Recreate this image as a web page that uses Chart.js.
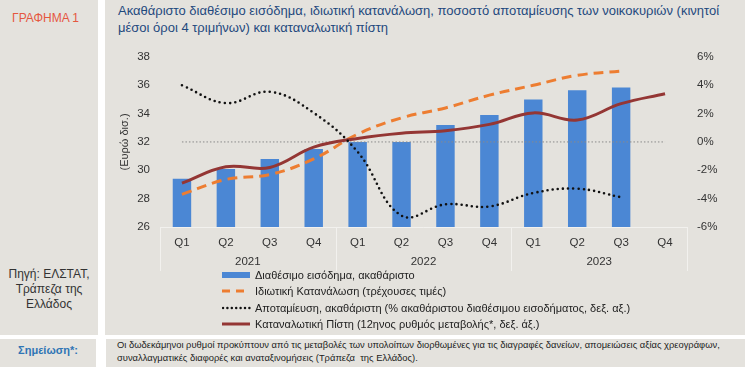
<!DOCTYPE html>
<html lang="el">
<head>
<meta charset="UTF-8">
<title>Γράφημα 1</title>
<script src="https://cdn.jsdelivr.net/npm/chart.js"></script>
<style>
body {
    margin: 0;
    width: 749px;
    height: 367px;
    background: #fff;
    font-family: "Liberation Sans", Arial, sans-serif;
    position: relative;
    overflow: hidden;
}
.panel { position: absolute; background: #e4e2dd; }
#label {
    position: absolute; left: 0; top: 11px; width: 91px; text-align: center;
    color: #e5573f; font-size: 12px;
}
#source {
    position: absolute; left: 0; top: 267px; width: 98px; text-align: center;
    color: #333; font-size: 12px; line-height: 15px;
}
#title {
    position: absolute; left: 118px; top: 2px; width: 630px;
    color: #1f497d; font-size: 13px; line-height: 17px;
}
#chartBox { position: absolute; left: 108px; top: 40px; }
#legend { position: absolute; left: 222px; top: 267px; font-size: 11px; color: #222; }
#legend div { height: 16.3px; display: flex; align-items: center; white-space: nowrap; }
#legend svg { margin-right: 3px; }
#noteLabel {
    position: absolute; left: 0; top: 344px; width: 96px; text-align: center;
    color: #2f75b5; font-weight: bold; font-size: 11px;
}
#note {
    position: absolute; left: 117px; top: 339px; width: 628px;
    color: #222; font-size: 9.4px; line-height: 12.5px;
}
</style>
</head>
<body>
<div class="panel" style="left:0;top:0;width:98px;height:335px"></div>
<div class="panel" style="left:105px;top:0;width:640px;height:335px"></div>
<div class="panel" style="left:0;top:339px;width:96px;height:28px"></div>
<div class="panel" style="left:106px;top:339px;width:639px;height:28px"></div>

<div id="label">ΓΡΑΦΗΜΑ 1</div>
<div id="source">Πηγή: ΕΛΣΤΑΤ,<br>Τράπεζα της<br>Ελλάδος</div>
<div id="title">Ακαθάριστο διαθέσιμο εισόδημα, ιδιωτική κατανάλωση, ποσοστό αποταμίευσης των νοικοκυριών (κινητοί μέσοι όροι 4 τριμήνων) και καταναλωτική πίστη</div>

<div id="chartBox"><canvas id="chart" width="635" height="232"></canvas></div>

<div id="legend">
    <div><svg width="30" height="8"><rect x="0" y="1" width="28" height="6" fill="#4b87d4"/></svg>Διαθέσιμο εισόδημα, ακαθάριστο</div>
    <div><svg width="30" height="8"><line x1="0" y1="4" x2="28" y2="4" stroke="#ed7d31" stroke-width="3" stroke-dasharray="8 6"/></svg>Ιδιωτική Κατανάλωση (τρέχουσες τιμές)</div>
    <div><svg width="30" height="8"><line x1="1" y1="4" x2="28" y2="4" stroke="#111" stroke-width="2.5" stroke-linecap="round" stroke-dasharray="0 4.4"/></svg>Αποταμίευση, ακαθάριστη (% ακαθάριστου διαθέσιμου εισοδήματος, δεξ. αξ.)</div>
    <div><svg width="30" height="8"><line x1="0" y1="4" x2="28" y2="4" stroke="#943634" stroke-width="3"/></svg>Καταναλωτική Πίστη (12ηνος ρυθμός μεταβολής*, δεξ. άξ.)</div>
</div>

<div id="noteLabel">Σημείωση*:</div>
<div id="note">Οι δωδεκάμηνοι ρυθμοί προκύπτουν από τις μεταβολές των υπολοίπων διορθωμένες για τις διαγραφές δανείων, απομειώσεις αξίας χρεογράφων,<br>συναλλαγματικές διαφορές και αναταξινομήσεις (Τράπεζα &nbsp;της Ελλάδος).</div>

<script>
// data
const quarters = ["Q1", "Q2", "Q3", "Q4", "Q1", "Q2", "Q3", "Q4", "Q1", "Q2", "Q3", "Q4"];
const years = ["2021", "2022", "2023"];
const income = [29.4, 30.1, 30.8, 31.5, 32.0, 32.0, 33.2, 33.9, 35.0, 35.65, 35.85, null];
const consumption = [28.3, 29.35, 29.7, 30.8, 32.55, 33.7, 34.4, 35.3, 36.0, 36.7, 37.0, null];
const saving = [4.0, 2.74, 3.54, 2.05, -0.7, -5.2, -4.4, -4.55, -3.6, -3.3, -3.9, null];
const credit = [-2.9, -1.75, -1.8, -0.37, 0.25, 0.62, 0.79, 1.24, 2.05, 1.55, 2.7, 3.4];
const zeroLine = [0, 0, 0, 0, 0, 0, 0, 0, 0, 0, 0, 0];
const leftRange = [26, 38];
const rightRange = [-6, 6];

const tickFont = { family: "Liberation Sans", size: 11.5 };

// year labels and group separators under the category axis
const yearGroups = {
    id: "yearGroups",
    afterDraw(chart) {
        const { ctx, chartArea, scales: { x } } = chart;
        const step = x.getPixelForValue(1) - x.getPixelForValue(0);
        const bottom = chartArea.bottom;
        ctx.save();
        ctx.strokeStyle = "#f2f1ee";
        ctx.lineWidth = 1;
        ctx.beginPath();
        ctx.moveTo(chartArea.left, bottom + 0.5);
        ctx.lineTo(chartArea.right, bottom + 0.5);
        for (let g = 0; g <= years.length; g++) {
            const px = Math.round(x.getPixelForValue(g * 4) - step / 2) + 0.5;
            ctx.moveTo(px, bottom);
            ctx.lineTo(px, bottom + 44);
        }
        ctx.stroke();
        ctx.fillStyle = "#333";
        ctx.font = "11.5px 'Liberation Sans'";
        ctx.textAlign = "center";
        ctx.textBaseline = "middle";
        years.forEach((yr, g) => {
            const cx = (x.getPixelForValue(g * 4) + x.getPixelForValue(g * 4 + 3)) / 2;
            ctx.fillText(yr, cx, bottom + 35);
        });
        ctx.restore();
    }
};

new Chart(document.getElementById("chart"), {
    type: "bar",
    data: {
        labels: quarters,
        datasets: [
            {
                type: "line", data: saving, yAxisID: "y1", order: 1,
                borderColor: "#111", borderWidth: 2.6, borderDash: [0, 5.2], borderCapStyle: "round",
                pointRadius: 0, tension: 0.4, fill: false
            },
            {
                type: "line", data: credit, yAxisID: "y1", order: 2,
                borderColor: "#943634", borderWidth: 3, pointRadius: 0, tension: 0.4, fill: false
            },
            {
                type: "line", data: consumption, yAxisID: "y", order: 3,
                borderColor: "#ed7d31", borderWidth: 3, borderDash: [10, 6],
                pointRadius: 0, tension: 0.4, fill: false
            },
            {
                type: "line", data: zeroLine, yAxisID: "y1", order: 4,
                borderColor: "#8a8a8a", borderWidth: 1, borderDash: [1.5, 2],
                pointRadius: 0, fill: false
            },
            {
                type: "bar", data: income, yAxisID: "y", order: 5,
                backgroundColor: "#4b87d4", categoryPercentage: 1, barPercentage: 0.42
            }
        ]
    },
    options: {
        responsive: false,
        animation: false,
        layout: { padding: { top: 13, left: 0, right: 0, bottom: 0 } },
        plugins: { legend: { display: false }, tooltip: { enabled: false } },
        scales: {
            x: {
                grid: { display: false, drawTicks: false },
                border: { display: false },
                ticks: { color: "#333", font: tickFont, padding: 9, maxRotation: 0, autoSkip: false },
                afterFit(s) { s.height = 45; }
            },
            y: {
                position: "left",
                min: leftRange[0], max: leftRange[1],
                grid: { display: false, drawTicks: false },
                border: { display: false },
                ticks: { stepSize: 2, color: "#333", font: tickFont, padding: 10 },
                title: {
                    display: true, text: "(Ευρώ δισ.)", color: "#333",
                    font: { family: "Liberation Sans", size: 11 }, padding: { top: 10, bottom: 0 }
                },
                afterFit(s) { s.width = 52; }
            },
            y1: {
                position: "right",
                min: rightRange[0], max: rightRange[1],
                grid: { display: false, drawTicks: false },
                border: { display: false },
                ticks: { stepSize: 2, color: "#333", font: tickFont, padding: 10, callback: v => v + "%" },
                afterFit(s) { s.width = 56; }
            }
        }
    },
    plugins: [yearGroups]
});
</script>
</body>
</html>
